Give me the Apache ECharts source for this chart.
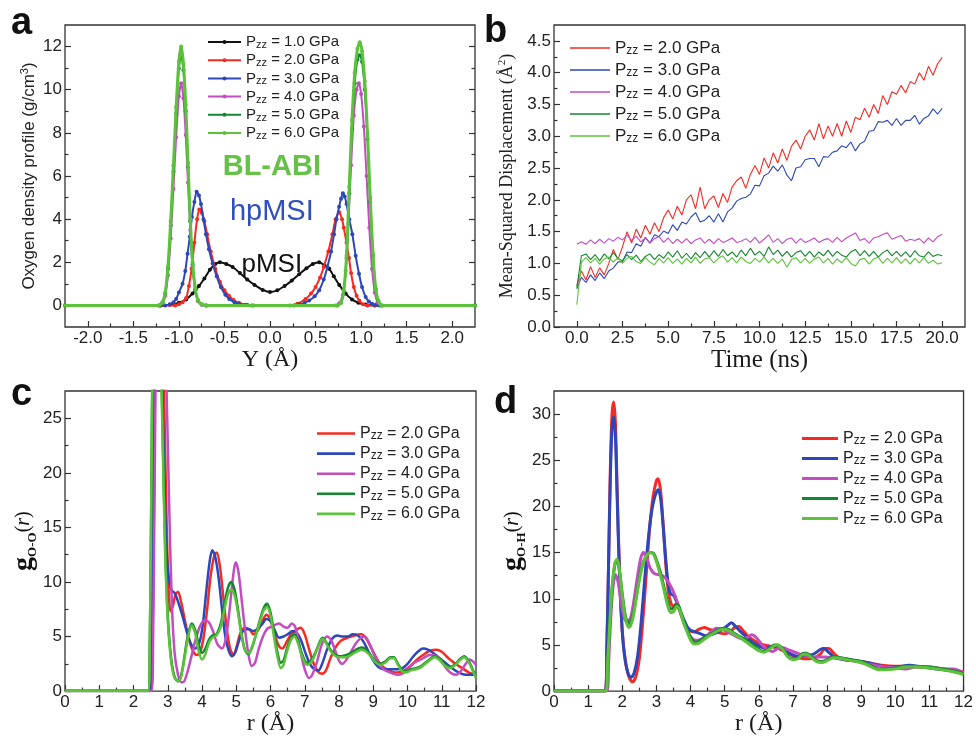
<!DOCTYPE html>
<html><head><meta charset="utf-8">
<script src="https://cdn.jsdelivr.net/npm/echarts@6/dist/echarts.min.js"></script>
<style>html,body{margin:0;padding:0;background:#fff}#c{width:976px;height:737px}</style>
</head><body><div id="c"></div>
<script>
const SANS = "'Liberation Sans', Arial, Helvetica, sans-serif";
const SERIF = "'Liberation Serif', 'Times New Roman', serif";

// ---------- colours ----------
const BLACK = '#111111', RED = '#f52a22', BLUE = '#2d47bb', MAG = '#c24cc0', DGREEN = '#15862e', LGREEN = '#5cc23c';

// ---------- panel a : oxygen density profile ----------
const aPressures = ['1.0', '2.0', '3.0', '4.0', '5.0', '6.0'];
const dens10 = [[-2.25,0],[-1.2,0],[-1.1,0.03],[-1.0,0.12],[-0.92,0.28],[-0.85,0.55],[-0.78,0.9],[-0.72,1.25],[-0.66,1.65],[-0.6,1.92],[-0.55,2.0],[-0.48,1.92],[-0.41,1.78],[-0.33,1.5],[-0.25,1.2],[-0.17,0.95],[-0.08,0.72],[0,0.62],[0.08,0.7],[0.16,0.9],[0.24,1.15],[0.32,1.45],[0.4,1.72],[0.47,1.92],[0.54,2.0],[0.6,1.85],[0.65,1.7],[0.7,1.35],[0.76,0.95],[0.83,0.55],[0.9,0.28],[0.97,0.12],[1.05,0.04],[1.15,0],[2.25,0]];
const dens20 = [[-2.25,0],[-1.04,0],[-1.0,0.05],[-0.96,0.15],[-0.92,0.35],[-0.89,0.9],[-0.86,1.7],[-0.83,2.9],[-0.8,4.0],[-0.776,4.45],[-0.75,4.3],[-0.72,3.9],[-0.69,3.3],[-0.65,2.5],[-0.6,1.7],[-0.55,1.1],[-0.5,0.7],[-0.45,0.45],[-0.4,0.25],[-0.34,0.12],[-0.25,0.03],[-0.18,0],[0.22,0],[0.3,0.08],[0.39,0.3],[0.45,0.55],[0.5,0.85],[0.55,1.3],[0.59,1.78],[0.64,2.5],[0.685,3.3],[0.72,4.0],[0.76,4.32],[0.79,4.0],[0.81,3.6],[0.84,2.9],[0.867,2.2],[0.89,1.5],[0.92,0.85],[0.95,0.45],[0.98,0.22],[1.02,0.06],[1.07,0],[2.25,0]];
const dens30 = [[-2.25,0],[-1.15,0],[-1.1,0.05],[-1.06,0.15],[-1.03,0.3],[-1.0,0.6],[-0.96,1.0],[-0.93,1.6],[-0.905,2.4],[-0.88,3.2],[-0.857,4.1],[-0.83,4.8],[-0.805,5.27],[-0.78,5.1],[-0.758,4.7],[-0.73,4.0],[-0.703,3.3],[-0.67,2.6],[-0.63,1.94],[-0.585,1.35],[-0.54,0.85],[-0.49,0.5],[-0.447,0.3],[-0.39,0.15],[-0.34,0.07],[-0.27,0.02],[-0.2,0],[0.26,0],[0.32,0.04],[0.38,0.12],[0.43,0.23],[0.49,0.42],[0.54,0.7],[0.59,1.2],[0.63,1.78],[0.67,2.5],[0.703,3.3],[0.73,4.0],[0.758,4.57],[0.78,4.95],[0.8,5.2],[0.82,5.05],[0.84,4.7],[0.87,4.0],[0.904,3.3],[0.94,2.3],[0.977,1.47],[1.01,0.85],[1.05,0.39],[1.085,0.18],[1.12,0.08],[1.16,0.02],[1.2,0],[2.25,0]];
const dens40 = [[-2.25,0],[-1.22,0],[-1.18,0.1],[-1.15,0.45],[-1.12,1.4],[-1.09,3.1],[-1.06,5.4],[-1.03,7.8],[-1.0,9.7],[-0.975,10.3],[-0.95,9.6],[-0.925,7.9],[-0.9,5.7],[-0.875,3.5],[-0.85,1.8],[-0.82,0.7],[-0.79,0.2],[-0.75,0.03],[-0.7,0],[0.72,0],[0.76,0.1],[0.8,0.5],[0.83,1.6],[0.86,3.8],[0.89,6.5],[0.92,8.8],[0.95,10.0],[0.975,10.3],[1.0,9.8],[1.03,8.3],[1.06,6.0],[1.09,3.6],[1.12,1.7],[1.15,0.6],[1.18,0.15],[1.22,0],[2.25,0]];
const dens50 = [[-2.25,0],[-1.22,0],[-1.18,0.12],[-1.15,0.55],[-1.12,1.7],[-1.09,3.7],[-1.06,6.2],[-1.03,8.9],[-1.0,11.0],[-0.975,11.6],[-0.95,10.9],[-0.925,9.0],[-0.9,6.4],[-0.875,3.9],[-0.85,1.9],[-0.82,0.75],[-0.79,0.22],[-0.75,0.04],[-0.7,0],[0.74,0],[0.78,0.12],[0.81,0.65],[0.84,2.2],[0.87,5.2],[0.9,8.2],[0.93,10.3],[0.96,11.4],[0.985,11.6],[1.01,11.3],[1.04,10.0],[1.07,7.7],[1.1,4.8],[1.13,2.3],[1.16,0.75],[1.19,0.2],[1.23,0],[2.25,0]];
const dens60 = [[-2.25,0],[-1.22,0],[-1.18,0.15],[-1.15,0.6],[-1.12,1.8],[-1.09,3.9],[-1.06,6.5],[-1.03,9.2],[-1.0,11.3],[-0.975,12.0],[-0.95,11.2],[-0.925,9.3],[-0.9,6.6],[-0.875,4.0],[-0.85,2.0],[-0.82,0.8],[-0.79,0.25],[-0.75,0.05],[-0.7,0],[0.74,0],[0.78,0.15],[0.81,0.7],[0.84,2.3],[0.87,5.5],[0.9,8.6],[0.93,10.8],[0.96,11.9],[0.985,12.2],[1.01,11.8],[1.04,10.4],[1.07,8.0],[1.1,5.0],[1.13,2.4],[1.16,0.8],[1.19,0.2],[1.23,0],[2.25,0]];
const aXLabels = [-2, -1.5, -1, -0.5, 0, 0.5, 1, 1.5, 2];
const aXMinor = [-1.75, -1.25, -0.75, -0.25, 0.25, 0.75, 1.25, 1.75];
const aYLabels = [0, 2, 4, 6, 8, 10, 12];
const aYMinor = [1, 3, 5, 7, 9, 11];

// ---------- panel b : mean-squared displacement (t = 0 .. 20 ns, every 0.25 ns) ----------
const msdStart = 0, msdStep = 0.25;
const msd20 = [0.65,0.88,0.74,0.95,0.78,0.93,0.82,1.00,1.22,1.06,1.26,1.50,1.32,1.54,1.40,1.60,1.46,1.64,1.50,1.72,
 1.84,1.70,1.90,1.76,2.00,2.08,1.86,2.20,1.86,2.00,2.06,1.88,2.10,1.96,2.20,2.30,2.36,2.18,2.40,2.54,
 2.40,2.66,2.50,2.74,2.58,2.80,2.62,2.84,2.94,2.80,3.00,3.10,2.94,3.20,2.96,3.16,3.00,3.20,3.00,3.24,
 3.06,3.30,3.26,3.44,3.30,3.50,3.36,3.64,3.50,3.70,3.66,3.80,3.68,3.86,3.82,4.00,3.88,4.10,3.96,4.14,4.24];
const msd30 = [0.60,0.78,0.70,0.82,0.73,0.85,0.76,0.88,0.93,1.02,1.03,1.18,1.17,1.31,1.27,1.41,1.32,1.45,1.42,1.51,
 1.47,1.61,1.52,1.65,1.62,1.73,1.80,1.65,1.68,1.75,1.65,1.78,1.65,1.81,1.87,1.98,2.02,2.04,2.09,2.23,
 2.22,2.38,2.42,2.53,2.45,2.55,2.39,2.30,2.50,2.52,2.63,2.65,2.65,2.52,2.68,2.67,2.75,2.77,2.85,2.82,
 2.91,2.77,2.88,2.92,3.08,3.09,3.23,3.22,3.25,3.17,3.28,3.17,3.25,3.25,3.33,3.19,3.28,3.32,3.43,3.35,3.44];
const msd40 = [1.30,1.34,1.30,1.37,1.31,1.38,1.32,1.39,1.35,1.41,1.37,1.45,1.36,1.43,1.34,1.40,1.32,1.39,1.42,1.33,
 1.40,1.31,1.38,1.32,1.39,1.31,1.37,1.40,1.32,1.38,1.31,1.39,1.33,1.36,1.40,1.33,1.35,1.39,1.33,1.41,
 1.32,1.38,1.45,1.33,1.39,1.31,1.38,1.40,1.32,1.39,1.33,1.36,1.40,1.33,1.37,1.39,1.33,1.41,1.34,1.40,
 1.44,1.48,1.36,1.39,1.32,1.40,1.42,1.46,1.48,1.38,1.41,1.44,1.35,1.38,1.36,1.39,1.32,1.40,1.34,1.42,1.46];
const msd50 = [0.62,1.12,1.15,1.06,1.14,1.04,1.15,1.07,1.17,1.08,1.04,1.14,1.06,1.13,1.03,1.11,1.15,1.06,1.14,1.08,
 1.18,1.10,1.20,1.08,1.16,1.07,1.17,1.09,1.19,1.10,1.20,1.11,1.22,1.12,1.18,1.10,1.21,1.12,1.24,1.13,
 1.19,1.11,1.26,1.14,1.21,1.11,1.19,1.10,1.17,1.20,1.11,1.19,1.10,1.18,1.12,1.21,1.11,1.19,1.13,1.10,
 1.18,1.22,1.12,1.20,1.11,1.19,1.10,1.17,1.21,1.12,1.19,1.11,1.18,1.10,1.20,1.12,1.10,1.18,1.11,1.14,1.12];
const msd60 = [0.35,1.02,1.09,1.01,1.08,0.99,1.07,1.10,1.02,1.09,1.00,1.08,1.11,1.03,1.00,1.09,1.02,0.98,1.08,1.01,
 1.09,1.00,1.07,0.99,1.08,1.01,1.10,1.00,1.07,1.09,1.01,1.08,1.12,1.02,1.09,1.01,1.10,1.03,1.00,1.08,
 1.02,1.10,1.01,1.08,1.00,1.07,0.94,1.06,1.09,1.01,1.08,1.00,1.07,1.10,1.01,1.08,0.99,1.07,1.01,1.09,
 1.00,0.96,1.06,1.08,0.99,1.07,1.10,1.00,1.08,1.01,1.09,1.00,1.07,0.99,1.08,1.01,1.09,1.00,1.05,0.99,1.01];
const bPressures = ['2.0', '3.0', '4.0', '5.0', '6.0'];
const bXLabels = [0, 2.5, 5, 7.5, 10, 12.5, 15, 17.5, 20];
const bXMinor = [1.25, 3.75, 6.25, 8.75, 11.25, 13.75, 16.25, 18.75];
const bYLabels = [0, 0.5, 1, 1.5, 2, 2.5, 3, 3.5, 4, 4.5];
const bYMinor = [0.25, 0.75, 1.25, 1.75, 2.25, 2.75, 3.25, 3.75, 4.25];

// ---------- panel c : g O-O (r) ----------
const goo20 = [[0,0],[2.5,0],[2.55,3],[2.6,18],[2.65,34],[2.75,44],[2.85,34],[2.9,26],[2.97,15],[3.03,9],[3.08,7.3],[3.15,7.8],[3.22,8.8],[3.3,9.1],[3.38,8.3],[3.48,6.8],[3.6,5.0],[3.72,3.8],[3.85,3.3],[3.95,3.6],[4.05,5.0],[4.15,7.5],[4.25,10.5],[4.35,12.3],[4.43,12.7],[4.52,11.5],[4.62,8.7],[4.72,5.8],[4.82,3.9],[4.92,3.3],[5.02,4.2],[5.12,5.3],[5.25,5.8],[5.4,5.6],[5.5,5.2],[5.62,5.5],[5.75,6.3],[5.88,7.0],[6.0,6.5],[6.12,5.2],[6.25,4.1],[6.35,3.9],[6.47,4.5],[6.6,5.2],[6.75,5.6],[6.88,5.8],[7.0,5.2],[7.12,3.9],[7.25,2.6],[7.38,1.8],[7.5,1.6],[7.62,1.9],[7.75,3.0],[7.9,4.0],[8.05,4.6],[8.25,4.9],[8.45,5.1],[8.65,5.2],[8.8,4.8],[8.95,3.9],[9.1,3.0],[9.25,2.3],[9.45,1.9],[9.65,1.7],[9.85,1.8],[10.05,2.2],[10.25,2.8],[10.45,3.3],[10.65,3.7],[10.85,3.8],[11.0,3.6],[11.2,3.0],[11.4,2.5],[11.6,2.1],[11.8,1.7],[12.0,1.5]];
const goo30 = [[0,0],[2.48,0],[2.53,4],[2.58,20],[2.63,35],[2.72,44],[2.8,34],[2.85,26],[2.92,17],[2.98,12],[3.05,10],[3.12,9.2],[3.2,9.0],[3.3,8.2],[3.42,7.0],[3.55,5.5],[3.68,4.3],[3.8,3.9],[3.92,4.4],[4.02,6.0],[4.12,9.0],[4.22,11.8],[4.3,12.9],[4.38,12.4],[4.48,10.5],[4.58,7.6],[4.68,5.0],[4.78,3.7],[4.88,3.2],[4.98,3.6],[5.08,4.6],[5.2,5.5],[5.35,5.7],[5.5,5.5],[5.62,5.7],[5.75,6.1],[5.88,6.6],[6.0,6.4],[6.12,5.6],[6.25,4.9],[6.38,5.0],[6.5,5.2],[6.65,5.5],[6.78,5.3],[6.9,4.6],[7.02,3.5],[7.15,2.5],[7.28,2.0],[7.4,1.9],[7.52,2.6],[7.65,3.8],[7.8,4.8],[7.95,5.1],[8.1,5.0],[8.25,5.0],[8.4,5.2],[8.55,5.1],[8.7,4.6],[8.85,3.7],[9.0,2.8],[9.15,2.2],[9.3,2.0],[9.5,2.0],[9.7,2.0],[9.85,2.1],[10.0,2.5],[10.15,3.1],[10.3,3.6],[10.45,3.9],[10.6,3.8],[10.75,3.5],[10.9,3.1],[11.1,2.6],[11.3,2.1],[11.5,1.7],[11.7,1.5],[12.0,1.5]];
const goo40 = [[0,0],[2.52,0],[2.57,4],[2.62,20],[2.68,36],[2.8,46],[2.9,36],[2.97,27],[3.05,16],[3.12,8],[3.2,3.5],[3.3,1.5],[3.4,0.8],[3.48,0.9],[3.58,1.8],[3.7,3.3],[3.82,4.8],[3.95,6.0],[4.08,6.5],[4.2,6.3],[4.32,5.5],[4.45,4.3],[4.58,3.9],[4.7,4.9],[4.8,7.3],[4.9,10.3],[4.98,11.8],[5.06,11.0],[5.15,8.6],[5.25,5.8],[5.35,3.5],[5.45,2.3],[5.55,2.6],[5.65,3.8],[5.78,5.0],[5.9,5.7],[6.02,5.9],[6.15,6.1],[6.25,6.2],[6.38,5.9],[6.5,5.8],[6.62,6.2],[6.72,5.9],[6.82,4.6],[6.92,3.0],[7.02,1.8],[7.12,1.2],[7.22,1.5],[7.35,2.6],[7.5,4.3],[7.65,5.0],[7.78,4.6],[7.9,3.6],[8.0,2.8],[8.1,2.5],[8.22,2.9],[8.35,3.6],[8.5,4.4],[8.65,4.9],[8.75,5.0],[8.88,4.4],[9.0,3.5],[9.15,2.6],[9.3,2.0],[9.5,1.7],[9.7,1.5],[9.85,1.6],[10.0,2.0],[10.2,2.6],[10.45,3.0],[10.65,3.3],[10.85,3.2],[11.0,2.7],[11.15,2.0],[11.3,1.6],[11.42,1.5],[11.55,1.8],[11.7,2.5],[11.82,2.9],[11.92,2.7],[12.0,2.4]];
const goo50 = [[0,0],[2.42,0],[2.47,3],[2.52,18],[2.57,34],[2.68,44],[2.78,34],[2.85,24],[2.92,14],[3.0,7],[3.1,3.0],[3.2,1.3],[3.3,0.9],[3.38,1.3],[3.48,3.0],[3.58,5.0],[3.7,6.2],[3.8,5.6],[3.9,4.3],[4.0,3.5],[4.1,3.9],[4.2,4.7],[4.3,5.1],[4.42,5.2],[4.55,6.2],[4.65,7.8],[4.75,9.4],[4.85,10.0],[4.95,9.3],[5.05,7.5],[5.15,5.3],[5.25,3.8],[5.35,3.4],[5.45,3.9],[5.55,4.9],[5.68,6.4],[5.8,7.6],[5.9,8.0],[6.0,7.2],[6.1,5.4],[6.2,3.6],[6.3,2.6],[6.38,2.8],[6.48,3.9],[6.6,4.9],[6.7,5.2],[6.8,4.6],[6.9,3.6],[7.0,2.8],[7.08,2.6],[7.2,2.9],[7.32,3.6],[7.45,4.6],[7.52,4.9],[7.62,4.5],[7.75,3.8],[7.9,3.3],[8.05,3.2],[8.2,3.3],[8.35,3.5],[8.5,3.8],[8.65,4.0],[8.75,3.9],[8.9,3.4],[9.05,2.8],[9.2,2.5],[9.35,2.7],[9.5,3.1],[9.6,3.1],[9.72,2.5],[9.85,1.9],[9.95,1.8],[10.1,2.0],[10.25,2.1],[10.4,2.3],[10.6,2.8],[10.8,3.2],[10.95,2.9],[11.1,2.4],[11.25,2.2],[11.4,2.5],[11.55,3.0],[11.65,3.2],[11.78,2.8],[11.9,2.0],[12.0,1.3]];
const goo60 = [[0,0],[2.42,0],[2.47,3],[2.52,18],[2.57,33],[2.68,43],[2.78,33],[2.85,23],[2.92,13],[3.0,6.5],[3.1,2.7],[3.2,1.2],[3.3,0.9],[3.38,1.2],[3.48,2.8],[3.58,4.7],[3.7,6.0],[3.8,5.3],[3.9,3.7],[4.0,2.9],[4.1,3.4],[4.2,4.4],[4.3,4.9],[4.42,5.1],[4.55,5.9],[4.65,7.4],[4.75,8.8],[4.85,9.3],[4.95,8.8],[5.05,7.2],[5.15,5.2],[5.25,3.8],[5.35,3.5],[5.45,4.0],[5.55,4.9],[5.68,6.2],[5.8,7.4],[5.9,7.7],[6.0,6.9],[6.1,5.0],[6.2,3.2],[6.3,2.1],[6.38,2.4],[6.48,3.6],[6.6,4.7],[6.7,5.0],[6.8,4.4],[6.9,3.4],[7.0,2.6],[7.08,2.4],[7.2,2.7],[7.32,3.5],[7.45,4.5],[7.52,4.8],[7.62,4.4],[7.75,3.7],[7.9,3.2],[8.05,3.1],[8.2,3.1],[8.35,3.3],[8.5,3.6],[8.65,3.8],[8.75,3.7],[8.9,3.3],[9.05,2.7],[9.2,2.4],[9.35,2.6],[9.5,3.0],[9.6,3.0],[9.72,2.4],[9.85,1.8],[9.95,1.7],[10.1,1.9],[10.25,2.0],[10.4,2.2],[10.6,2.7],[10.8,3.1],[10.95,2.8],[11.1,2.3],[11.25,2.1],[11.4,2.4],[11.55,2.9],[11.65,3.1],[11.78,2.7],[11.9,1.9],[12.0,1.2]];
const rLabels = [0,1,2,3,4,5,6,7,8,9,10,11,12];
const rMinor = [0.5,1.5,2.5,3.5,4.5,5.5,6.5,7.5,8.5,9.5,10.5,11.5];
const cYLabels = [0, 5, 10, 15, 20, 25];
const cYMinor = [2.5, 7.5, 12.5, 17.5, 22.5];

// ---------- panel d : g O-H (r) ----------
const goh20 = [[0,0],[1.5,0],[1.55,5],[1.6,14],[1.65,24],[1.7,30],[1.75,31.3],[1.8,29],[1.85,22],[1.92,13],[2.0,6.5],[2.1,3.0],[2.2,1.5],[2.3,1.0],[2.4,1.6],[2.5,3.5],[2.6,7.5],[2.7,12.5],[2.8,17.5],[2.9,21.0],[3.0,22.8],[3.05,23.0],[3.12,21.8],[3.2,18.0],[3.28,13.5],[3.35,10.8],[3.42,9.6],[3.5,9.2],[3.58,9.4],[3.65,9.0],[3.75,8.0],[3.85,7.0],[3.95,6.6],[4.1,6.4],[4.25,6.7],[4.4,6.9],[4.55,6.7],[4.7,6.5],[4.85,6.3],[5.0,6.2],[5.15,6.4],[5.3,6.9],[5.42,7.0],[5.55,6.5],[5.7,5.9],[5.85,5.5],[6.0,5.2],[6.15,5.0],[6.3,4.9],[6.5,4.7],[6.7,4.4],[6.9,4.0],[7.1,3.7],[7.3,3.5],[7.5,3.5],[7.65,3.6],[7.8,4.0],[7.95,4.6],[8.05,4.6],[8.2,4.1],[8.35,3.6],[8.5,3.4],[8.7,3.3],[9.0,3.2],[9.3,3.0],[9.6,2.8],[10.0,2.7],[10.4,2.7],[10.8,2.6],[11.2,2.5],[11.6,2.3],[12.0,2.1]];
const goh30 = [[0,0],[1.5,0],[1.55,5],[1.6,14],[1.65,23],[1.7,28.5],[1.75,29.7],[1.8,27.5],[1.85,21],[1.92,12.5],[2.0,6.5],[2.08,3.5],[2.18,1.8],[2.26,1.5],[2.35,2.0],[2.45,3.8],[2.55,7.3],[2.65,11.8],[2.75,16.0],[2.85,19.2],[2.95,21.0],[3.05,21.8],[3.12,21.0],[3.2,17.8],[3.28,14.0],[3.35,11.5],[3.42,10.5],[3.5,10.4],[3.6,9.6],[3.7,8.6],[3.8,7.8],[3.9,7.0],[4.0,6.6],[4.15,6.4],[4.3,6.2],[4.45,6.0],[4.6,6.1],[4.75,6.3],[4.9,6.6],[5.05,7.0],[5.2,7.4],[5.32,7.0],[5.45,6.5],[5.6,6.0],[5.75,5.5],[5.9,5.1],[6.05,4.8],[6.2,4.6],[6.35,4.8],[6.5,4.8],[6.7,4.5],[6.9,4.1],[7.1,3.8],[7.3,3.8],[7.5,3.9],[7.65,4.1],[7.8,4.5],[7.9,4.6],[8.05,4.2],[8.2,3.7],[8.35,3.5],[8.6,3.4],[9.0,3.2],[9.3,3.0],[9.6,2.7],[10.0,2.6],[10.4,2.8],[10.8,2.6],[11.2,2.4],[11.6,2.2],[12.0,2.0]];
const goh40 = [[0,0],[1.55,0],[1.6,3],[1.65,7],[1.72,11],[1.8,12.6],[1.88,11.8],[1.97,9.5],[2.07,7.8],[2.15,7.5],[2.25,8.0],[2.35,10.0],[2.45,12.5],[2.55,14.5],[2.63,15.0],[2.72,14.4],[2.82,13.3],[2.95,12.7],[3.1,12.6],[3.25,12.3],[3.4,11.5],[3.55,10.3],[3.7,8.6],[3.85,7.0],[4.0,5.9],[4.15,5.5],[4.3,5.6],[4.45,5.9],[4.6,6.4],[4.75,6.8],[4.9,6.7],[5.05,6.5],[5.2,6.2],[5.35,5.9],[5.5,5.7],[5.65,5.8],[5.8,6.1],[5.95,5.7],[6.1,5.0],[6.25,4.5],[6.4,4.3],[6.55,4.6],[6.7,4.7],[6.85,4.5],[7.0,4.3],[7.2,4.0],[7.45,3.8],[7.7,3.7],[7.95,3.7],[8.2,3.6],[8.5,3.5],[8.8,3.3],[9.1,3.0],[9.4,2.8],[9.7,2.6],[10.0,2.5],[10.3,2.4],[10.6,2.6],[11.0,2.6],[11.4,2.4],[11.7,2.4],[12.0,2.0]];
const goh50 = [[0,0],[1.52,0],[1.57,3],[1.63,7],[1.7,11],[1.78,13.6],[1.85,14.2],[1.92,13.0],[2.0,10.5],[2.1,8.0],[2.2,7.2],[2.3,8.0],[2.4,10.0],[2.5,12.2],[2.6,13.8],[2.7,14.6],[2.82,15.0],[2.92,14.9],[3.02,14.0],[3.12,12.8],[3.22,11.3],[3.32,9.8],[3.42,8.9],[3.5,9.0],[3.6,9.4],[3.68,9.0],[3.78,7.8],[3.9,6.6],[4.02,5.7],[4.12,5.3],[4.25,5.4],[4.4,5.8],[4.55,6.1],[4.7,6.4],[4.85,6.7],[5.0,6.8],[5.15,6.6],[5.3,6.2],[5.45,5.9],[5.6,5.6],[5.75,5.2],[5.9,4.8],[6.05,4.4],[6.15,4.3],[6.3,4.6],[6.45,5.0],[6.55,5.0],[6.7,4.6],[6.85,3.8],[7.0,3.5],[7.15,3.6],[7.3,4.1],[7.4,4.1],[7.55,3.7],[7.7,3.3],[7.85,3.2],[8.0,3.4],[8.2,3.7],[8.45,3.6],[8.7,3.4],[9.0,3.2],[9.25,2.8],[9.5,2.4],[9.75,2.4],[10.0,2.5],[10.3,2.7],[10.6,2.7],[11.0,2.6],[11.4,2.4],[11.7,2.2],[12.0,1.9]];
const goh60 = [[0,0],[1.52,0],[1.57,3],[1.63,7],[1.7,11.2],[1.78,13.8],[1.85,14.3],[1.92,13.0],[2.0,10.3],[2.1,7.7],[2.2,6.9],[2.3,7.7],[2.4,9.8],[2.5,12.0],[2.6,13.7],[2.7,14.6],[2.82,15.0],[2.92,14.8],[3.02,13.8],[3.12,12.5],[3.22,11.0],[3.32,9.4],[3.42,8.5],[3.5,8.6],[3.6,9.2],[3.68,8.8],[3.78,7.6],[3.9,6.4],[4.02,5.4],[4.12,5.1],[4.25,5.2],[4.4,5.6],[4.55,6.0],[4.7,6.3],[4.85,6.6],[5.0,6.7],[5.15,6.5],[5.3,6.1],[5.45,5.8],[5.6,5.4],[5.75,5.0],[5.9,4.6],[6.05,4.3],[6.15,4.2],[6.3,4.5],[6.45,4.9],[6.55,5.0],[6.7,4.5],[6.85,3.7],[7.0,3.4],[7.15,3.5],[7.3,4.0],[7.4,4.0],[7.55,3.6],[7.7,3.2],[7.85,3.1],[8.0,3.3],[8.2,3.6],[8.45,3.5],[8.7,3.3],[9.0,3.1],[9.25,2.7],[9.5,2.3],[9.75,2.3],[10.0,2.4],[10.3,2.6],[10.6,2.6],[11.0,2.5],[11.4,2.3],[11.7,2.1],[12.0,1.8]];
const dYLabels = [0, 5, 10, 15, 20, 25, 30];
const dYMinor = [2.5, 7.5, 12.5, 17.5, 22.5, 27.5];

// ---------- helpers ----------
const TICK = {color: '#333', width: 1.2};
function makeAxes(o) {
  const base = {type: 'value', gridIndex: o.grid, position: o.pos, min: o.min, max: o.max,
    splitLine: {show: false}, axisLine: {show: false, onZero: false}, axisPointer: {show: false}};
  const major = Object.assign({}, base, {
    axisTick: {show: true, inside: true, length: 6, lineStyle: TICK, customValues: o.major},
    axisLabel: {show: o.labels !== false, customValues: o.major, formatter: o.fmt, margin: o.margin || 3,
      color: '#222', fontSize: 17, fontFamily: SANS}
  });
  if (o.name) Object.assign(major, {name: o.name, nameLocation: 'middle', nameGap: o.nameGap, nameTextStyle: o.nameStyle});
  const minor = Object.assign({}, base, {
    axisTick: {show: true, inside: true, length: 3.5, lineStyle: TICK, customValues: o.minor},
    axisLabel: {show: false}
  });
  return [major, minor];
}
const f1 = v => v.toFixed(1);
const f0 = v => String(Math.round(v));
const xTitle = (fs) => ({fontFamily: SERIF, fontSize: fs, color: '#1a1a1a'});
function gName(sub) { return '{g|g}{sub|' + sub + '}{t|(}{i|r}{t|)}'; }
const gRich = {rich: {
  g: {fontFamily: SERIF, fontWeight: 'bold', fontSize: 28, lineHeight: 31, color: '#111'},
  sub: {fontFamily: SERIF, fontWeight: 'bold', fontSize: 13, lineHeight: 13, verticalAlign: 'bottom', color: '#111'},
  t: {fontFamily: SERIF, fontSize: 20, lineHeight: 31, color: '#111'},
  i: {fontFamily: SERIF, fontStyle: 'italic', fontSize: 20, lineHeight: 31, color: '#111'}
}};

function legendFor(prefix, list, left, top, fs, lh, gap, iw, ih, icon) {
  const sfs = Math.round(fs * 0.72);
  const lg = {
    data: list.map(p => prefix + '|' + p), orient: 'vertical', left: left, top: top, padding: 0,
    itemGap: gap, itemWidth: iw, itemHeight: ih, selectedMode: false,
    formatter: n => '{p|P}{s|zz}{t| = ' + n.split('|')[1] + ' GPa}',
    textStyle: {rich: {
      p: {fontSize: fs, fontFamily: SANS, color: '#222', lineHeight: lh},
      s: {fontSize: sfs, fontFamily: SANS, color: '#222', lineHeight: sfs, verticalAlign: 'bottom'},
      t: {fontSize: fs, fontFamily: SANS, color: '#222', lineHeight: lh}
    }}
  };
  if (icon) lg.icon = icon;
  return lg;
}

// ---------- axes ----------
const xAxes = [].concat(
  makeAxes({grid: 0, pos: 'bottom', min: -2.25, max: 2.25, major: aXLabels, minor: aXMinor, fmt: f1,
    name: 'Y (Å)', nameGap: 17, nameStyle: xTitle(24)}),
  makeAxes({grid: 1, pos: 'bottom', min: -1.25, max: 21.25, major: bXLabels, minor: bXMinor, fmt: f1,
    name: 'Time (ns)', nameGap: 16, nameStyle: xTitle(25)}),
  makeAxes({grid: 2, pos: 'bottom', min: 0, max: 12, major: rLabels, minor: rMinor, fmt: f0,
    name: 'r (Å)', nameGap: 17, nameStyle: xTitle(24)}),
  makeAxes({grid: 3, pos: 'bottom', min: 0, max: 12, major: rLabels, minor: rMinor, fmt: f0,
    name: 'r (Å)', nameGap: 17, nameStyle: xTitle(24)})
);
const yAxes = [].concat(
  makeAxes({grid: 0, pos: 'left', min: -1, max: 13, major: aYLabels, minor: aYMinor, fmt: f0,
    name: '{t|Oxygen density profile (g/cm}{sup|3}{t|)}', nameGap: 26,
    nameStyle: {rich: {t: {fontFamily: SANS, fontSize: 17, lineHeight: 20, color: '#222'},
      sup: {fontFamily: SANS, fontSize: 11, lineHeight: 11, verticalAlign: 'top', color: '#222'}}}}),
  makeAxes({grid: 0, pos: 'right', min: -1, max: 13, major: aYLabels, minor: aYMinor, labels: false}),
  makeAxes({grid: 1, pos: 'left', min: 0, max: 4.75, major: bYLabels, minor: bYMinor, fmt: f1,
    name: '{t|Mean-Squared Displacement (Å}{sup|2}{t|)}', nameGap: 36,
    nameStyle: {rich: {t: {fontFamily: SERIF, fontSize: 18, lineHeight: 21, color: '#222'},
      sup: {fontFamily: SERIF, fontSize: 11, lineHeight: 11, verticalAlign: 'top', color: '#222'}}}}),
  makeAxes({grid: 2, pos: 'left', min: 0, max: 27.5, major: cYLabels, minor: cYMinor, fmt: f0,
    name: gName('O-O'), nameGap: 26, nameStyle: gRich}),
  makeAxes({grid: 3, pos: 'left', min: 0, max: 32.5, major: dYLabels, minor: dYMinor, fmt: f0,
    name: gName('O-H'), nameGap: 26, nameStyle: gRich})
);
const AX = {a: 0, b: 2, c: 4, d: 6};
const AY = {a: 0, b: 4, c: 6, d: 8};

// ---------- series ----------
const series = [];
const aData = [dens10, dens20, dens30, dens40, dens50, dens60];
const aColors = [BLACK, RED, BLUE, MAG, DGREEN, LGREEN];
aData.forEach((d, i) => series.push({
  name: 'a|' + aPressures[i], type: 'line', xAxisIndex: AX.a, yAxisIndex: AY.a, data: d,
  smooth: 0.25, symbol: 'circle', symbolSize: 4, showSymbol: true, color: aColors[i],
  lineStyle: {width: i === 5 ? 3 : 2, color: aColors[i]}, itemStyle: {color: aColors[i]},
  animation: false, silent: true, z: 2 + i
}));
const bData = [msd20, msd30, msd40, msd50, msd60];
const bColors = [RED, BLUE, MAG, DGREEN, LGREEN];
bData.forEach((vals, i) => series.push({
  name: 'b|' + bPressures[i], type: 'line', xAxisIndex: AX.b, yAxisIndex: AY.b,
  data: vals.map((v, k) => [msdStart + k * msdStep, v]),
  symbol: 'none', color: bColors[i], lineStyle: {width: 1.1, color: bColors[i]},
  animation: false, silent: true, z: 2 + i
}));
const cData = [goo20, goo30, goo40, goo50, goo60];
cData.forEach((d, i) => series.push({
  name: 'c|' + bPressures[i], type: 'line', xAxisIndex: AX.c, yAxisIndex: AY.c, data: d,
  smooth: 0.3, symbol: 'none', color: bColors[i], lineStyle: {width: 2.5, color: bColors[i]},
  animation: false, silent: true, z: 2 + i
}));
const dData = [goh20, goh30, goh40, goh50, goh60];
dData.forEach((d, i) => series.push({
  name: 'd|' + bPressures[i], type: 'line', xAxisIndex: AX.d, yAxisIndex: AY.d, data: d,
  smooth: 0.3, symbol: 'none', color: bColors[i], lineStyle: {width: 3, color: bColors[i]},
  animation: false, silent: true, z: 2 + i
}));

const gridStyle = {show: true, borderColor: '#333', borderWidth: 1.3, backgroundColor: 'transparent', containLabel: false};
const option = {
  backgroundColor: '#ffffff',
  animation: false,
  grid: [
    Object.assign({left: 65, top: 25, width: 410, height: 302}, gridStyle),
    Object.assign({left: 554, top: 25, width: 411, height: 302}, gridStyle),
    Object.assign({left: 65, top: 391, width: 411, height: 301}, gridStyle),
    Object.assign({left: 554, top: 391, width: 411, height: 301}, gridStyle)
  ],
  xAxis: xAxes,
  yAxis: yAxes,
  legend: [
    legendFor('a', aPressures, 207, 34.5, 15, 17, 2.2, 33, 5),
    legendFor('b', bPressures, 570, 39.5, 17, 18, 4.5, 40, 1.3, 'rect'),
    legendFor('c', bPressures, 317, 425.5, 16, 17, 3.6, 38, 2.6, 'rect'),
    legendFor('d', bPressures, 802, 430.5, 16, 17, 3.5, 36, 3, 'rect')
  ],
  series: series
};

const chart = echarts.init(document.getElementById('c'), null, {renderer: 'canvas'});
chart.setOption(option);

const annot = [
  {text: 'BL-ABI', at: [0.02, 6.42], font: 'bold 29px ' + SANS, fill: '#66c147'},
  {text: 'hpMSI', at: [0.02, 4.33], font: '29px ' + SANS, fill: '#2f4fbf'},
  {text: 'pMSI', at: [0.02, 1.86], font: '26px ' + SANS, fill: '#111'}
];
const graphics = annot.map(a => {
  const p = chart.convertToPixel({xAxisIndex: AX.a, yAxisIndex: AY.a}, a.at);
  return {type: 'text', x: p[0], y: p[1], silent: true, z: 50,
    style: {text: a.text, font: a.font, fill: a.fill, align: 'center', verticalAlign: 'middle'}};
});
[['a', 11, 24], ['b', 484, 32], ['c', 11, 395], ['d', 494, 403]].forEach(l => graphics.push({
  type: 'text', x: l[1], y: l[2], silent: true, z: 50,
  style: {text: l[0], font: 'bold 38px ' + SANS, fill: '#111', align: 'left', verticalAlign: 'middle'}
}));
chart.setOption({graphic: graphics});
</script>
</body></html>
